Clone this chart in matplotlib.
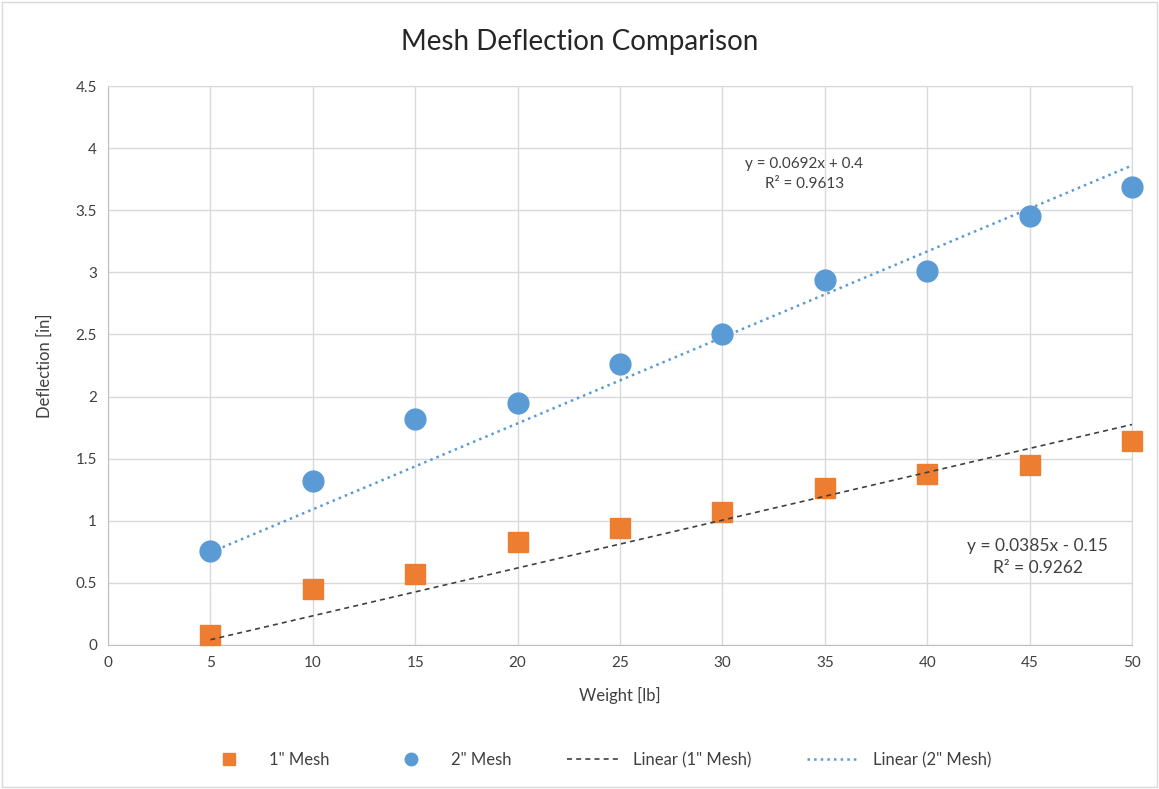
import matplotlib.pyplot as plt
import numpy as np
from matplotlib.patches import Rectangle

plt.rcParams['font.family'] = ['Lato', 'DejaVu Sans']

# data
weight = [5, 10, 15, 20, 25, 30, 35, 40, 45, 50]
mesh1 = [0.08, 0.45, 0.57, 0.83, 0.94, 1.07, 1.26, 1.38, 1.45, 1.64]
mesh2 = [0.76, 1.32, 1.82, 1.95, 2.26, 2.50, 2.94, 3.01, 3.45, 3.69]
# trendline coefficients as printed on the chart
fit1 = (0.0385, -0.15)
fit2 = (0.0692, 0.4)
r2_1 = 0.9262
r2_2 = 0.9613

orange = '#ED7D31'
blue = '#5B9BD5'
grid = '#D9D9D9'
txt = '#404040'

fig = plt.figure(figsize=(11.59, 7.89), dpi=100)
ax = fig.add_axes([108/1159, 1-645/789, (1132-108)/1159, (645-86)/789])

ax.plot(weight, mesh1, 's', color=orange, markersize=14, label='1" Mesh', zorder=3, clip_on=False)
ax.plot(weight, mesh2, 'o', color=blue, markersize=15, label='2" Mesh', zorder=3, clip_on=False)

xs = np.array([weight[0], weight[-1]])
ax.plot(xs, fit1[0]*xs + fit1[1], '--', color='#404040', lw=1.2, dashes=(3, 2.5),
        label='Linear (1" Mesh)', zorder=4)
ax.plot(xs, fit2[0]*xs + fit2[1], ':', color=blue, lw=1.8,
        label='Linear (2" Mesh)', zorder=2)

ax.set_xlim(0, 50)
ax.set_ylim(0, 4.5)
ax.set_xticks(range(0, 51, 5))
ax.set_yticks(np.arange(0, 4.51, 0.5))
ax.set_yticklabels(['0', '0.5', '1', '1.5', '2', '2.5', '3', '3.5', '4', '4.5'])
ax.grid(True, color=grid, lw=1)
ax.set_axisbelow(True)
for s in ax.spines.values():
    s.set_color(grid)
ax.spines['left'].set_color('#BFBFBF')
ax.spines['bottom'].set_color('#BFBFBF')
ax.tick_params(length=0, labelsize=11, labelcolor=txt, pad=8)

ax.set_xlabel('Weight [lb]', fontsize=12, color=txt, labelpad=12)
ax.set_ylabel('Deflection [in]', fontsize=12, color=txt, labelpad=16)
fig.text(0.5, 1-42/789, 'Mesh Deflection Comparison', ha='center', va='center',
         fontsize=20, color='#262626')

ax.text(34.0, 3.79, f'y = {fit2[0]}x + {fit2[1]}\nR² = {r2_2}', ha='center', va='center',
        fontsize=11, color=txt, linespacing=1.5)
ax.text(45.4, 0.71, f'y = {fit1[0]}x - {abs(fit1[1])}\nR² = {r2_1}', ha='center', va='center',
        fontsize=12.5, color=txt, linespacing=1.5)

handles, labels = ax.get_legend_handles_labels()
leg = fig.legend(handles, labels, loc='center', bbox_to_anchor=(0.515, 1-760/789), ncol=4,
                 frameon=False, fontsize=12, markerscale=0.6, handlelength=3.2,
                 columnspacing=3.3)
for t in leg.get_texts():
    t.set_color(txt)

fig.patches.append(Rectangle((0.002, 0.002), 0.996, 0.996, transform=fig.transFigure,
                             fill=False, edgecolor='#D9D9D9', lw=1))

fig.savefig('out.png', dpi=100)
